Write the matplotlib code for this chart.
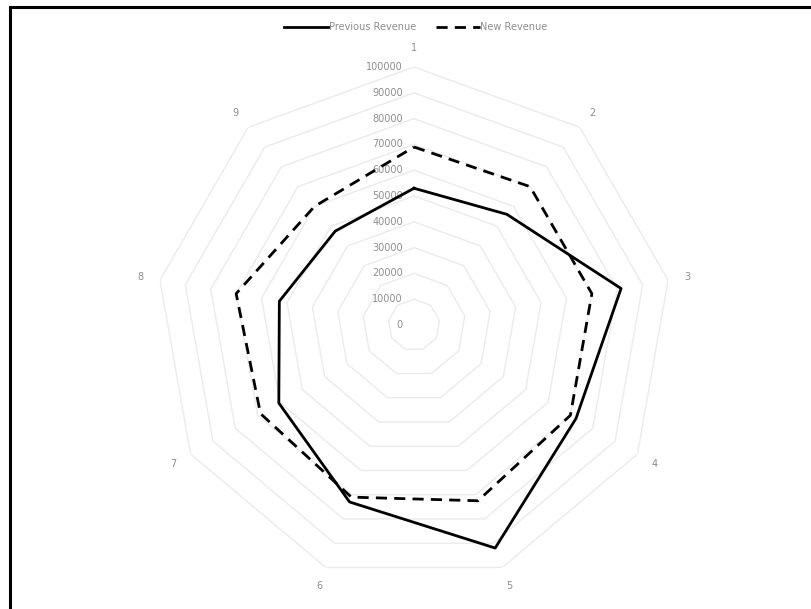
import matplotlib
matplotlib.use('Agg')
import matplotlib.pyplot as plt
from matplotlib.lines import Line2D
import numpy as np

categories = ['1', '2', '3', '4', '5', '6', '7', '8', '9']
previous = [53000, 56000, 81500, 72500, 92000, 73000, 60500, 53000, 47500]
new = [69000, 70000, 70000, 70000, 72500, 71000, 68700, 70000, 60000]
r_ticks = np.arange(0, 100001, 10000)

W, H = 811, 609
fig = plt.figure(figsize=(W / 100, H / 100), dpi=100)

cx, cy, R = 414, 325, 258  # chart centre / radius in pixels
ax = fig.add_axes([(cx - R) / W, (H - cy - R) / H, 2 * R / W, 2 * R / H], polar=True)
ax.set_theta_zero_location('N')
ax.set_theta_direction(-1)
ax.set_ylim(0, 100000)
ax.grid(False)
ax.spines['polar'].set_visible(False)
ax.set_xticks([])
ax.set_yticks([])
ax.patch.set_alpha(0)

angles = np.linspace(0, 2 * np.pi, len(categories), endpoint=False)
closed = np.append(angles, angles[0])

# polygon gridlines
for r in r_ticks[1:]:
    ax.plot(closed, [r] * len(closed), color='#ebebeb', lw=1.0, zorder=1)

# radial tick labels
for r in r_ticks:
    ax.annotate(str(r), xy=(0, r), xytext=(-8, 0), textcoords='offset points',
                ha='right', va='center', fontsize=7, color='#8c8c8c')

# category labels
for a, c in zip(angles, categories):
    ax.text(a, 107500, c, ha='center', va='center', fontsize=7, color='#8c8c8c')

ax.plot(closed, previous + previous[:1], color='black', lw=2.0,
        label='Previous Revenue', zorder=3)
ax.plot(closed, new + new[:1], color='black', lw=2.0, ls=(0, (4, 2.6)),
        label='New Revenue', zorder=3)

fig.legend(loc='center', bbox_to_anchor=(0.513, 1 - 27 / H), ncol=2, frameon=False,
           fontsize=7, labelcolor='#8c8c8c', handlelength=4.5, columnspacing=2.0,
           handletextpad=0.1)

# partial frame as in the screenshot
fig.add_artist(Line2D([9.5 / W, 1], [1 - 6.5 / H, 1 - 6.5 / H], color='black', lw=2.2))
fig.add_artist(Line2D([9.5 / W, 9.5 / W], [0, 1 - 6.5 / H], color='black', lw=2.2))

fig.savefig('out.png', dpi=100)
